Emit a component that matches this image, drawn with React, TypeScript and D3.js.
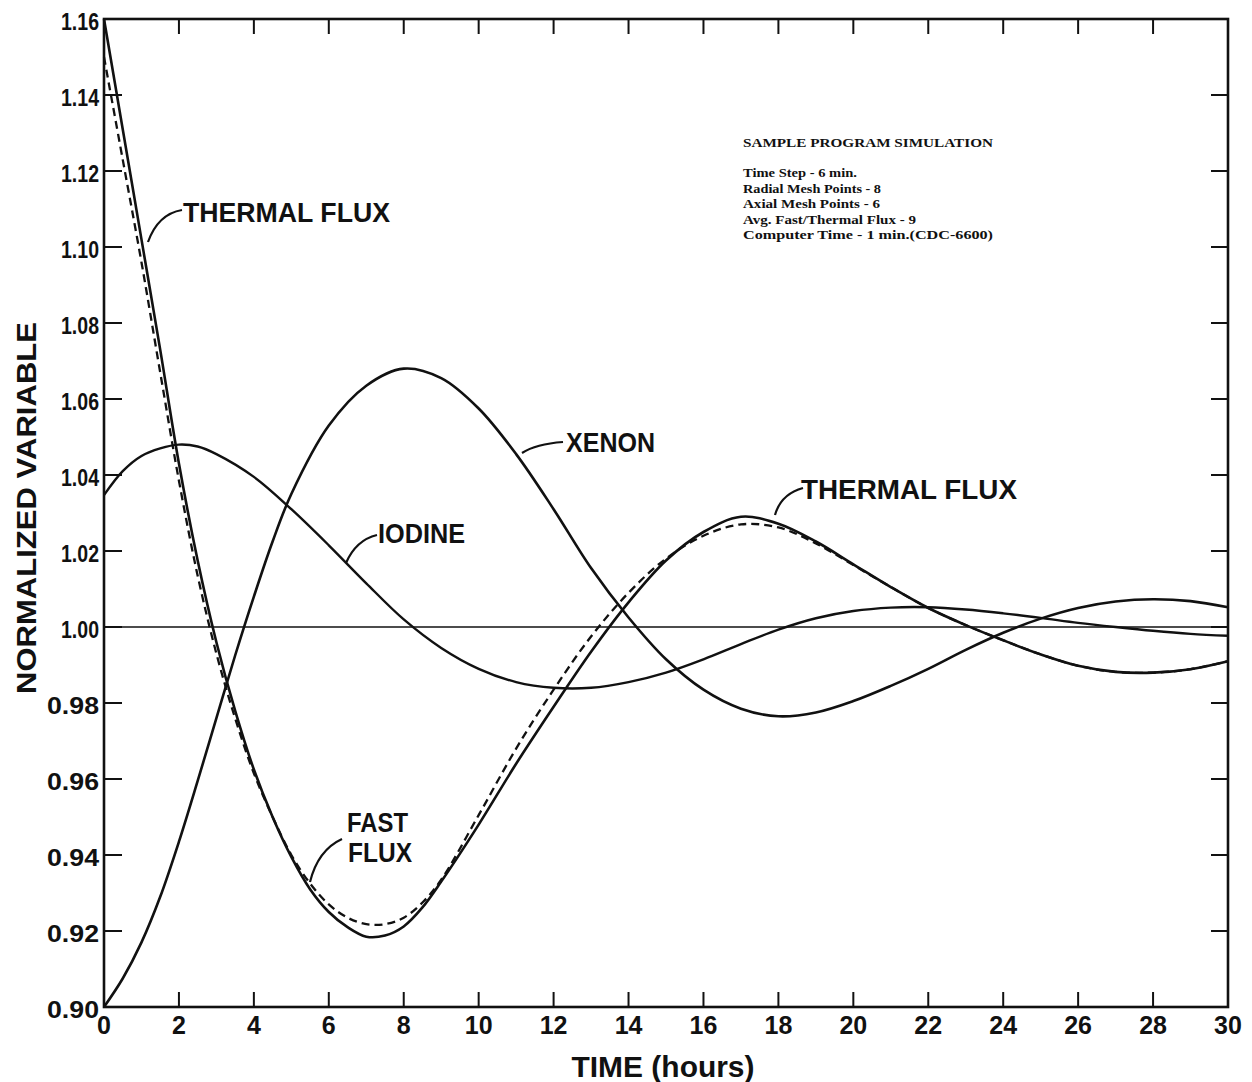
import React from "react";
import * as d3 from "d3";

// ---- data ----
const thermalT = [0, 0.5, 1, 1.5, 2, 2.5, 3, 3.5, 4, 4.5, 5, 5.5, 6, 6.5, 7, 7.5, 8, 8.5, 9, 10, 11, 12, 13, 14, 15, 16, 17, 18, 19, 20, 21, 22, 23, 24, 25, 26, 27, 28, 29, 30];
const thermalV = [1.16, 1.131, 1.102, 1.073, 1.043, 1.0175, 0.996, 0.978, 0.9625, 0.95, 0.9395, 0.931, 0.925, 0.921, 0.9185, 0.9188, 0.9212, 0.9262, 0.933, 0.948, 0.964, 0.979, 0.9935, 1.0065, 1.0175, 1.025, 1.029, 1.0272, 1.0225, 1.0165, 1.0105, 1.005, 1.0005, 0.9965, 0.9928, 0.9898, 0.9882, 0.988, 0.9889, 0.991];

const fastT = [0, 0.5, 1, 1.5, 2, 2.5, 3, 3.5, 4, 4.5, 5, 5.5, 6, 6.5, 7, 7.5, 8, 8.5, 9, 10, 11, 12, 13, 14, 15, 16, 17, 18, 19, 20, 21, 22, 23, 24, 25, 26, 27, 28, 29, 30];
const fastV = [1.15, 1.123, 1.096, 1.067, 1.0385, 1.0135, 0.993, 0.976, 0.9615, 0.95, 0.94, 0.9325, 0.927, 0.9235, 0.9218, 0.9218, 0.9235, 0.9275, 0.9335, 0.9505, 0.968, 0.9835, 0.9975, 1.009, 1.018, 1.024, 1.027, 1.0262, 1.022, 1.0163, 1.0105, 1.005, 1.0005, 0.9965, 0.9928, 0.9898, 0.9882, 0.988, 0.9889, 0.991];

const xenonT = [0, 0.5, 1, 1.5, 2, 2.5, 3, 3.5, 4, 4.5, 5, 6, 7, 8, 9, 10, 11, 12, 13, 14, 15, 16, 17, 18, 19, 20, 21, 22, 23, 24, 25, 26, 27, 28, 29, 30];
const xenonV = [0.9, 0.9075, 0.917, 0.929, 0.9435, 0.9595, 0.976, 0.9925, 1.008, 1.0225, 1.035, 1.053, 1.0635, 1.068, 1.0655, 1.0575, 1.0455, 1.031, 1.0155, 1.0025, 0.9915, 0.9835, 0.9785, 0.9765, 0.9775, 0.9805, 0.9845, 0.989, 0.994, 0.9985, 1.0022, 1.005, 1.0067, 1.0073, 1.0068, 1.0052];

const iodineT = [0, 0.5, 1, 1.5, 2, 2.5, 3, 4, 5, 6, 7, 8, 9, 10, 11, 12, 13, 14, 15, 16, 17, 18, 19, 20, 21, 22, 23, 24, 25, 26, 27, 28, 29, 30];
const iodineV = [1.0347, 1.041, 1.045, 1.047, 1.048, 1.0475, 1.0455, 1.0395, 1.031, 1.0215, 1.0115, 1.002, 0.9945, 0.989, 0.9855, 0.984, 0.984, 0.9855, 0.988, 0.9915, 0.9955, 0.9993, 1.0023, 1.0042, 1.0051, 1.0052, 1.0046, 1.0036, 1.0024, 1.0011, 1.0, 0.999, 0.9982, 0.9977];

const xTickValues = [0, 2, 4, 6, 8, 10, 12, 14, 16, 18, 20, 22, 24, 26, 28, 30];
const yTickValues = [0.9, 0.92, 0.94, 0.96, 0.98, 1.0, 1.02, 1.04, 1.06, 1.08, 1.1, 1.12, 1.14, 1.16];
const yTickLabels = ["0.90", "0.92", "0.94", "0.96", "0.98", "1.00", "1.02", "1.04", "1.06", "1.08", "1.10", "1.12", "1.14", "1.16"];

const infoTitle = "SAMPLE PROGRAM SIMULATION";
const infoLines = [
  "Time Step - 6 min.",
  "Radial Mesh Points - 8",
  "Axial Mesh Points - 6",
  "Avg. Fast/Thermal Flux - 9",
  "Computer Time - 1 min.(CDC-6600)",
];
const infoWidths = [114, 138, 137, 173, 250];

const W = 1252;
const H = 1082;

export default function App() {
  const x = d3.scaleLinear().domain([0, 30]).range([104, 1228]);
  const y = d3.scaleLinear().domain([0.9, 1.16]).range([1007, 19]);

  const line = d3
    .line<[number, number]>()
    .x((d) => x(d[0]))
    .y((d) => y(d[1]))
    .curve(d3.curveCatmullRom.alpha(0.5));

  const zip = (t: number[], v: number[]) => t.map((ti, i) => [ti, v[i]] as [number, number]);

  const ink = "#111";
  const sans = "'Liberation Sans', Arial, sans-serif";
  const serif = "'Liberation Serif', 'DejaVu Serif', serif";

  const label = (txt: string, x0: number, yb: number, len: number) => (
    <text
      x={x0}
      y={yb}
      fontFamily={sans}
      fontWeight="bold"
      fontSize={27}
      fill={ink}
      textLength={len}
      lengthAdjust="spacingAndGlyphs"
    >
      {txt}
    </text>
  );

  return (
    <svg
      width={W}
      height={H}
      style={{ position: "absolute", left: 0, top: 0, background: "#fff" }}
    >
      <rect x={0} y={0} width={W} height={H} fill="#fff" />

      {/* 1.00 reference line */}
      <line x1={x(0)} x2={x(30)} y1={y(1.0)} y2={y(1.0)} stroke={ink} strokeWidth={1.6} />

      {/* curves */}
      <path d={line(zip(xenonT, xenonV)) || ""} fill="none" stroke={ink} strokeWidth={2.6} />
      <path d={line(zip(iodineT, iodineV)) || ""} fill="none" stroke={ink} strokeWidth={2.4} />
      <path d={line(zip(thermalT, thermalV)) || ""} fill="none" stroke={ink} strokeWidth={2.6} />
      <path
        d={line(zip(fastT, fastV)) || ""}
        fill="none"
        stroke={ink}
        strokeWidth={2.3}
        strokeDasharray="8,5"
      />

      {/* frame */}
      <rect
        x={x(0)}
        y={y(1.16)}
        width={x(30) - x(0)}
        height={y(0.9) - y(1.16)}
        fill="none"
        stroke={ink}
        strokeWidth={2.6}
      />

      {/* x ticks (bottom & top, inward) */}
      {xTickValues
        .filter((t) => t > 0 && t < 30)
        .map((t) => (
          <g key={"xt" + t}>
            <line x1={x(t)} x2={x(t)} y1={y(0.9)} y2={y(0.9) - 15} stroke={ink} strokeWidth={2} />
            <line x1={x(t)} x2={x(t)} y1={y(1.16)} y2={y(1.16) + 15} stroke={ink} strokeWidth={2} />
          </g>
        ))}
      {/* y ticks (left & right, inward) */}
      {yTickValues
        .filter((v) => v > 0.901 && v < 1.159)
        .map((v) => (
          <g key={"yt" + v}>
            <line x1={x(0)} x2={x(0) + 18} y1={y(v)} y2={y(v)} stroke={ink} strokeWidth={2} />
            <line x1={x(30)} x2={x(30) - 17} y1={y(v)} y2={y(v)} stroke={ink} strokeWidth={2} />
          </g>
        ))}

      {/* x tick labels */}
      {xTickValues.map((t) => (
        <text
          key={"xl" + t}
          x={x(t)}
          y={1034}
          textAnchor="middle"
          fontFamily={sans}
          fontWeight="bold"
          fontSize={25}
          fill={ink}
        >
          {String(t)}
        </text>
      ))}
      {/* y tick labels */}
      {yTickValues.map((v, i) => (
        <text
          key={"yl" + i}
          x={99}
          y={y(v) + 3}
          textAnchor="end"
          dominantBaseline="central"
          fontFamily={sans}
          fontWeight="bold"
          fontSize={23}
          fill={ink}
          textLength={yTickLabels[i].startsWith("1") ? 38 : 52}
          lengthAdjust="spacingAndGlyphs"
        >
          {yTickLabels[i]}
        </text>
      ))}

      {/* axis titles */}
      <text
        x={663}
        y={1077}
        textAnchor="middle"
        fontFamily={sans}
        fontWeight="bold"
        fontSize={29}
        fill={ink}
        textLength={183}
        lengthAdjust="spacingAndGlyphs"
      >
        TIME (hours)
      </text>
      <text
        transform={`translate(36,508) rotate(-90)`}
        textAnchor="middle"
        fontFamily={sans}
        fontWeight="bold"
        fontSize={27}
        fill={ink}
        textLength={372}
        lengthAdjust="spacingAndGlyphs"
      >
        NORMALIZED VARIABLE
      </text>

      {/* curve labels */}
      {label("THERMAL  FLUX", 183, 222, 207)}
      {label("XENON", 566, 452, 89)}
      {label("IODINE", 378, 543, 87)}
      {label("THERMAL  FLUX", 801, 499, 216)}
      {label("FAST", 347, 832, 61)}
      {label("FLUX", 348, 862, 64)}

      {/* leaders */}
      <g fill="none" stroke={ink} strokeWidth={2.2}>
        <path d="M148,242 Q158,214 182,210" />
        <path d="M522,453 Q536,444 563,442" />
        <path d="M346,563 Q356,540 377,535" />
        <path d="M775,515 Q781,494 803,488" />
        <path d="M310,882 Q318,850 342,839" />
      </g>

      {/* info block */}
      <text
        x={743}
        y={147}
        fontFamily={serif}
        fontWeight="bold"
        fontSize={12.5}
        fill={ink}
        textLength={250}
        lengthAdjust="spacingAndGlyphs"
      >
        {infoTitle}
      </text>
      {infoLines.map((s, i) => (
        <text
          key={"info" + i}
          x={743}
          y={177 + i * 15.5}
          fontFamily={serif}
          fontWeight="bold"
          fontSize={12.5}
          fill={ink}
          textLength={infoWidths[i]}
          lengthAdjust="spacingAndGlyphs"
        >
          {s}
        </text>
      ))}
    </svg>
  );
}
